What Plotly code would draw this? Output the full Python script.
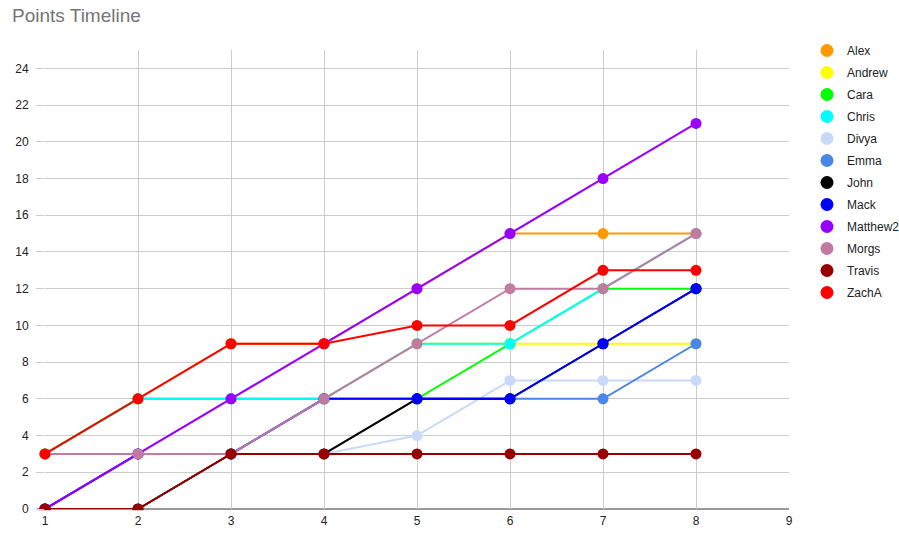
import plotly.graph_objects as go

weeks = [1, 2, 3, 4, 5, 6, 7, 8]
names = ["Alex", "Andrew", "Cara", "Chris", "Divya", "Emma", "John", "Mack",
         "Matthew2", "Morgs", "Travis", "ZachA"]
colors = ["#ff9900", "#ffff00", "#00ff00", "#00ffff", "#c9daf8", "#4a86e8",
          "#000000", "#0000ff", "#9900ff", "#c27ba0", "#980000", "#ff0000"]

alex = [3, 6, 9, 9, 12, 15, 15, 15]
andrew = [3, 6, 6, 6, 9, 9, 9, 9]
cara = [3, 6, 6, 6, 6, 9, 12, 12]
chris = [3, 6, 6, 6, 9, 9, 12, 15]
divya = [0, 0, 3, 3, 4, 7, 7, 7]
emma = [0, 3, 3, 6, 6, 6, 6, 9]
john = [0, 0, 3, 3, 6, 6, 9, 12]
mack = [0, 3, 3, 6, 6, 6, 9, 12]
matthew2 = [0, 3, 6, 9, 12, 15, 18, 21]
morgs = [3, 3, 3, 6, 9, 12, 12, 15]
travis = [0, 0, 3, 3, 3, 3, 3, 3]
zacha = [3, 6, 9, 9, 10, 10, 13, 13]

series = [alex, andrew, cara, chris, divya, emma, john, mack, matthew2, morgs, travis, zacha]

fig = go.Figure()
for name, col, vals in zip(names, colors, series):
    fig.add_trace(go.Scatter(
        x=weeks, y=vals, mode="lines+markers", name=name,
        line=dict(color=col, width=2),
        marker=dict(color=col, size=11),
        showlegend=False, legendgroup=name, cliponaxis=False,
    ))
for name, col in zip(names, colors):
    fig.add_trace(go.Scatter(
        x=[None], y=[None], mode="markers", name=name,
        marker=dict(color=col, size=13), legendgroup=name,
    ))

W, H = 899, 534
ml, mr, mt, mb = 45, 110, 50, 25
pw = W - ml - mr
ph = H - mt - mb

fig.update_layout(
    width=W, height=H, autosize=False,
    paper_bgcolor="white", plot_bgcolor="white",
    margin=dict(l=ml, r=mr, t=mt, b=mb, pad=0),
    font=dict(family="Liberation Sans, Arial, sans-serif", size=12, color="#222222"),
    title=dict(text="Points Timeline", x=12 / W, xanchor="left", xref="container",
               y=1 - 15 / H, yanchor="middle", yref="container",
               font=dict(size=19, color="#757575")),
    legend=dict(x=807 / W, xanchor="left", xref="container",
                y=1 - 36 / H, yanchor="top", yref="container",
                tracegroupgap=3, itemwidth=30, maxheight=500,
                font=dict(size=12, color="#222222")),
    xaxis=dict(range=[1, 9], tickvals=[1, 2, 3, 4, 5, 6, 7, 8, 9],
               showgrid=True, gridcolor="#cccccc", gridwidth=1, automargin=False,
               zeroline=False, showline=False, ticks="", ticklabelstandoff=3,
               tickfont=dict(size=12, color="#222222")),
    yaxis=dict(range=[0, 25], tickvals=list(range(0, 25, 2)),
               showgrid=True, gridcolor="#cccccc", gridwidth=1, automargin=False,
               zeroline=False, showline=False,
               ticks="outside", ticklen=8, tickcolor="#cccccc", tickwidth=1,
               ticklabelstandoff=5,
               tickfont=dict(size=12, color="#222222")),
    shapes=[
        dict(type="line", xref="paper", yref="paper", x0=-8 / pw, x1=1, y0=0, y1=0,
             line=dict(color="#333333", width=1), layer="below"),
        dict(type="rect", xref="paper", yref="paper", x0=-9 / pw, x1=1 + 8 / pw,
             y0=-6 / ph, y1=-1.2 / ph, fillcolor="white", line=dict(width=0),
             layer="above"),
    ],
)

fig.write_html(
    "out.html",
    config={"responsive": False, "displayModeBar": False},
    post_script="document.body.style.margin='0';document.body.style.overflow='hidden';",
)
